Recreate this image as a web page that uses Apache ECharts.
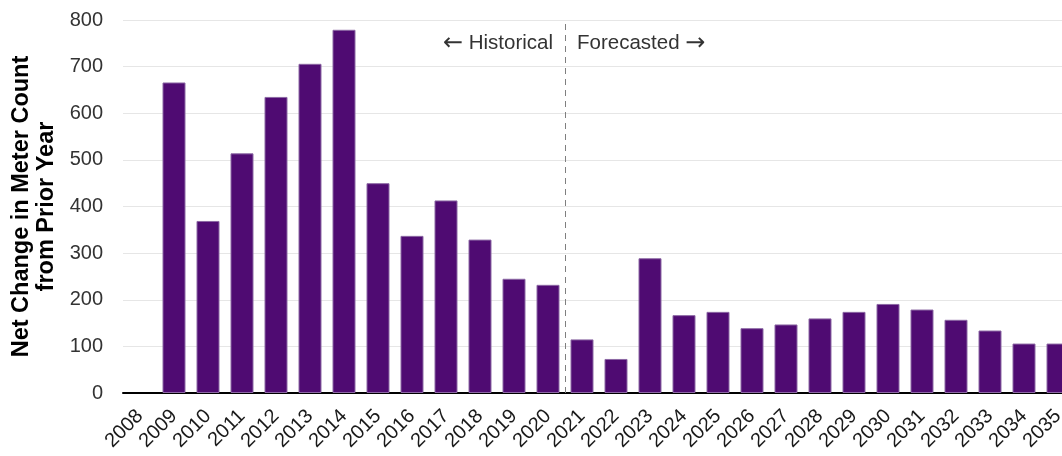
<!DOCTYPE html>
<html>
<head>
<meta charset="utf-8">
<script src="https://cdn.jsdelivr.net/npm/echarts@6/dist/echarts.min.js"></script>
<style>
  html, body { margin: 0; padding: 0; background: #fff; overflow: hidden; }
  /* the plot runs slightly past the right edge of the window, so the last bar is cut */
  #chart { width: 1075px; height: 456px; }
</style>
</head>
<body>
<div id="chart"></div>
<script>
// Years shown on the category axis (2008 is the baseline year, no change bar)
const years = ['2008','2009','2010','2011','2012','2013','2014','2015','2016','2017',
  '2018','2019','2020','2021','2022','2023','2024','2025','2026','2027','2028',
  '2029','2030','2031','2032','2033','2034','2035'];

// Net change in meter count from the prior year
const netChange = [null, 666, 369, 514, 635, 706, 779, 450, 337, 413,
  329, 245, 232, 115, 73, 289, 167, 174, 139, 147, 160,
  174, 191, 179, 157, 134, 106, 106];

// Boundary between historical and forecasted years (between 2020 and 2021)
const splitPosition = years.indexOf('2020') + 0.5;
const yTicks = { min: 0, max: 800, interval: 100 };

const FONT = '"Liberation Sans", Arial, sans-serif';
const chart = echarts.init(document.getElementById('chart'), null, { renderer: 'canvas' });

chart.setOption({
  animation: false,
  backgroundColor: '#ffffff',
  grid: { left: 123, top: 20, right: 0, bottom: 63, containLabel: false },
  xAxis: [{
    type: 'category',
    data: years,
    axisLine: { lineStyle: { color: '#000', width: 2 } },
    axisTick: { show: false },
    axisLabel: { interval: 0, rotate: 45, margin: 20, fontSize: 20, color: '#1a1a1a', fontFamily: FONT }
  }, {
    // hidden numeric twin of the category axis, used to place the divider between years
    type: 'value',
    min: -0.5,
    max: years.length - 0.5,
    show: false
  }],
  yAxis: {
    type: 'value',
    min: yTicks.min,
    max: yTicks.max,
    interval: yTicks.interval,
    name: 'Net Change in Meter Count\nfrom Prior Year',
    nameLocation: 'middle',
    nameGap: 61,
    nameTextStyle: { fontSize: 23.5, fontWeight: 'bold', color: '#000', fontFamily: FONT, lineHeight: 25 },
    axisLine: { show: false },
    axisTick: { show: false },
    axisLabel: { margin: 20, fontSize: 20, color: '#333', fontFamily: FONT },
    splitLine: { lineStyle: { color: '#e6e6e6', width: 1 } }
  },
  series: [{
    type: 'bar',
    data: netChange,
    barWidth: 23,
    itemStyle: { color: '#4f0b72', borderColor: '#8c68a4', borderWidth: 1 }
  }, {
    type: 'line',
    xAxisIndex: 1,
    data: [],
    silent: true,
    markLine: {
      symbol: 'none',
      silent: true,
      label: { show: false },
      lineStyle: { color: '#7f7f7f', type: [6, 5], width: 1 },
      data: [{ xAxis: splitPosition }]
    }
  }]
});

// Period annotations on either side of the divider
const xSplit = chart.convertToPixel({ xAxisIndex: 1 }, splitPosition);
const yText = chart.convertToPixel({ yAxisIndex: 0 }, 750);
const arrowStyle = { fontFamily: '"DejaVu Sans", sans-serif', fontSize: 24, fill: '#333' };
chart.setOption({
  graphic: [{
    type: 'text',
    x: xSplit - 12,
    y: yText,
    style: {
      text: '{arr|←} Historical',
      rich: { arr: arrowStyle },
      fontSize: 20.5, fontFamily: FONT, fill: '#333', align: 'right', verticalAlign: 'middle'
    }
  }, {
    type: 'text',
    x: xSplit + 12,
    y: yText,
    style: {
      text: 'Forecasted {arr|→}',
      rich: { arr: arrowStyle },
      fontSize: 20.5, fontFamily: FONT, fill: '#333', align: 'left', verticalAlign: 'middle'
    }
  }]
});
</script>
</body>
</html>
